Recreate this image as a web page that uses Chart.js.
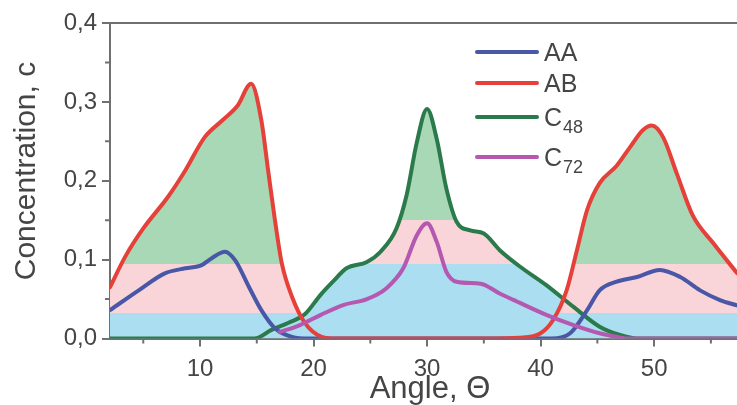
<!DOCTYPE html>
<html>
<head>
<meta charset="utf-8">
<script src="https://cdn.jsdelivr.net/npm/chart.js@4.4.1/dist/chart.umd.min.js"></script>
<style>
  html, body { margin: 0; padding: 0; background: #fff; overflow: hidden; }
  #wrap { width: 737px; height: 405px; }
</style>
</head>
<body>
<div id="wrap"><canvas id="chart" width="737" height="405"></canvas></div>
<script>
// series names (base + subscript) as in the legend
const seriesNames = ['AA', 'AB', 'C', 'C'];
const seriesSubs = ['', '', '48', '72'];

// AA
const aaAngle = [2.07, 4.6, 6.9, 8.7, 10.15, 11.0, 12.2, 13.1, 14.3, 15.4, 16.6, 18.1, 19.6, 25, 30, 35, 41.0, 42.6, 44.1, 45.2, 46.7, 48.5, 50.5, 52.3, 54.05, 55.8, 57.3];
const aaConc  = [0.036, 0.061, 0.0825, 0.089, 0.093, 0.1015, 0.11, 0.099, 0.0656, 0.036, 0.013, 0.002, 0, 0, 0, 0, 0, 0.0066, 0.036, 0.061, 0.072, 0.078, 0.087, 0.078, 0.061, 0.0487, 0.042];

// AB
const abAngle = [2.07, 3.4, 5.0, 7.2, 8.7, 10.4, 12.0, 13.3, 14.5, 15.4, 16.0, 16.6, 17.2, 18.1, 19.25, 20.7, 21.6, 25, 30, 35, 38.2, 40.0, 41.1, 42.3, 43.2, 44.1, 45.2, 46.7, 47.9, 49.0, 49.8, 50.8, 52.0, 53.4, 55.2, 57.3];
const abConc  = [0.065, 0.1035, 0.1395, 0.18, 0.213, 0.255, 0.277, 0.295, 0.323, 0.277, 0.213, 0.15, 0.0955, 0.053, 0.0196, 0.002, 0, 0, 0, 0, 0.001, 0.0066, 0.0234, 0.0614, 0.112, 0.163, 0.197, 0.219, 0.243, 0.264, 0.27, 0.255, 0.209, 0.156, 0.121, 0.083];

// C48
const c48Angle = [2.07, 10, 14.8, 16.3, 17.8, 19.25, 20.6, 21.7, 22.9, 24.7, 25.9, 27.3, 28.2, 29.1, 30.0, 30.85, 31.7, 32.6, 33.8, 35.0, 36.4, 38.2, 40.5, 42.9, 45.2, 47.0, 48.5, 57.3];
const c48Conc  = [0, 0, 0, 0.011, 0.02, 0.031, 0.055, 0.072, 0.089, 0.097, 0.11, 0.1395, 0.182, 0.249, 0.291, 0.253, 0.19, 0.148, 0.137, 0.133, 0.112, 0.091, 0.0677, 0.040, 0.015, 0.0044, 0, 0];

// C72
const c72Angle = [17.0, 18.8, 20.6, 22.6, 24.7, 26.4, 27.9, 29.1, 30.0, 30.85, 31.7, 32.6, 34.7, 36.4, 37.6, 40.5, 42.9, 45.2, 46.4, 47.5, 50, 57.3];
const c72Conc  = [0.008, 0.017, 0.0297, 0.0424, 0.05, 0.0635, 0.089, 0.131, 0.146, 0.1225, 0.0846, 0.072, 0.0695, 0.057, 0.049, 0.030, 0.017, 0.0066, 0.003, 0, 0, 0];

// shading levels under AB and under C48
const abBands = [0.032, 0.094];
const c48Bands = [0.094, 0.15];

const lineColors = ['#4857a6', '#e5413a', '#2b7a4b', '#b458b0'];
const bandColors = ['#aadef0', '#f9d5d9', '#a9d8b6'];
const axisColor = '#707070';
const textColor = '#454545';
const fontFamily = '"Liberation Sans", Arial, sans-serif';

const pts = (xs, ys) => xs.map((x, i) => ({ x: x, y: ys[i] }));

function bandFill(bands) {
  return (context) => {
    const chart = context.chart;
    const ys = chart.scales.y;
    if (!chart.chartArea || !ys) return bandColors[0];
    const y0 = ys.getPixelForValue(0), y1 = ys.getPixelForValue(ys.max);
    const g = chart.ctx.createLinearGradient(0, y0, 0, y1);
    const t1 = bands[0] / ys.max, t2 = bands[1] / ys.max;
    g.addColorStop(0, bandColors[0]);
    g.addColorStop(t1, bandColors[0]);
    g.addColorStop(t1, bandColors[1]);
    g.addColorStop(t2, bandColors[1]);
    g.addColorStop(t2, bandColors[2]);
    g.addColorStop(1, bandColors[2]);
    return g;
  };
}

const decor = {
  id: 'decor',
  afterDraw(chart) {
    const { ctx, chartArea: a, scales: { x, y } } = chart;
    ctx.save();
    ctx.strokeStyle = axisColor;
    ctx.lineWidth = 2;
    ctx.beginPath();
    ctx.moveTo(a.left - 1, a.top);
    ctx.lineTo(a.right, a.top);
    // minor ticks
    for (let v = 5; v < x.max; v += 10) {
      const px = x.getPixelForValue(v);
      ctx.moveTo(px, a.bottom);
      ctx.lineTo(px, a.bottom + 5);
    }
    for (let v = 0.05; v < y.max; v += 0.1) {
      const py = y.getPixelForValue(v);
      ctx.moveTo(a.left, py);
      ctx.lineTo(a.left - 5, py);
    }
    ctx.stroke();

    // axis titles
    ctx.fillStyle = textColor;
    ctx.font = '31px ' + fontFamily;
    ctx.textAlign = 'center';
    ctx.textBaseline = 'alphabetic';
    ctx.fillText('Angle, \u0398', 430, 398);
    ctx.save();
    ctx.translate(35, 171);
    ctx.rotate(-Math.PI / 2);
    ctx.font = '30px ' + fontFamily;
    ctx.fillText('Concentration, c', 0, 0);
    ctx.restore();

    // legend
    const rows = [52, 83, 117, 157];
    ctx.lineCap = 'round';
    ctx.lineWidth = 4;
    ctx.textAlign = 'left';
    ctx.textBaseline = 'alphabetic';
    rows.forEach((ry, i) => {
      ctx.strokeStyle = lineColors[i];
      ctx.beginPath();
      ctx.moveTo(477, ry);
      ctx.lineTo(537, ry);
      ctx.stroke();
      ctx.font = '25px ' + fontFamily;
      ctx.fillText(seriesNames[i], 544, ry + 9);
      if (seriesSubs[i]) {
        const w = ctx.measureText(seriesNames[i]).width;
        ctx.font = '18px ' + fontFamily;
        ctx.fillText(seriesSubs[i], 544 + w + 1, ry + 16);
      }
    });
    ctx.restore();
  }
};

const lineStyle = (i) => ({
  borderColor: lineColors[i],
  borderWidth: 4,
  pointRadius: 0,
  cubicInterpolationMode: 'monotone',
  borderCapStyle: 'round',
  borderJoinStyle: 'round'
});

new Chart(document.getElementById('chart'), {
  type: 'line',
  data: {
    datasets: [
      Object.assign({ label: 'AA', data: pts(aaAngle, aaConc), fill: false, order: 2 }, lineStyle(0)),
      Object.assign({ label: 'AB', data: pts(abAngle, abConc), fill: 'origin', backgroundColor: bandFill(abBands), order: 1 }, lineStyle(1)),
      Object.assign({ label: 'C48', data: pts(c48Angle, c48Conc), fill: 'origin', backgroundColor: bandFill(c48Bands), order: 3 }, lineStyle(2)),
      Object.assign({ label: 'C72', data: pts(c72Angle, c72Conc), fill: false, order: 0 }, lineStyle(3))
    ]
  },
  options: {
    responsive: false,
    animation: false,
    layout: { padding: { top: 23, right: 0, left: 0, bottom: 0 } },
    plugins: {
      legend: { display: false },
      tooltip: { enabled: false },
      filler: { drawTime: 'beforeDatasetsDraw' }
    },
    scales: {
      x: {
        type: 'linear',
        min: 2.07,
        max: 57.3,
        afterFit: (s) => { s.height = 66.5; },
        border: { color: axisColor, width: 2 },
        grid: { drawOnChartArea: false, tickLength: 8, color: axisColor, lineWidth: 2 },
        ticks: {
          stepSize: 10,
          includeBounds: false,
          color: textColor,
          padding: 8,
          font: { family: fontFamily, size: 24 },
          callback: (v) => String(v)
        }
      },
      y: {
        min: 0,
        max: 0.4,
        afterFit: (s) => { s.width = 110; },
        border: { color: axisColor, width: 2 },
        grid: { drawOnChartArea: false, tickLength: 8, color: axisColor, lineWidth: 2 },
        ticks: {
          stepSize: 0.1,
          color: textColor,
          padding: 5,
          font: { family: fontFamily, size: 24 },
          callback: (v) => v.toFixed(1).replace('.', ',')
        }
      }
    }
  },
  plugins: [decor]
});
</script>
</body>
</html>
